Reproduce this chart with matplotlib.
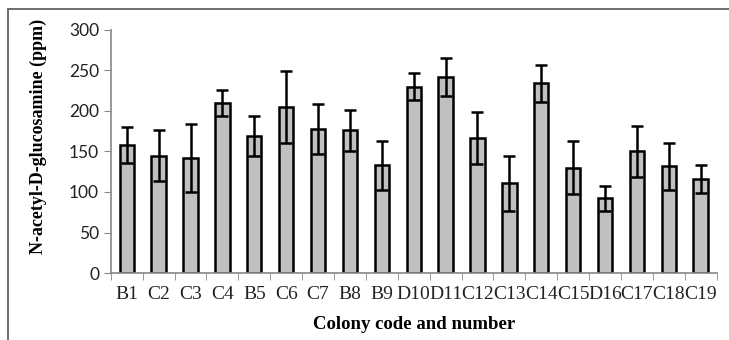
import numpy as np
import matplotlib
matplotlib.use("Agg")
import matplotlib.pyplot as plt
from matplotlib.patches import Rectangle

codes = ["B1", "C2", "C3", "C4", "B5", "C6", "C7", "B8", "B9", "D10",
         "D11", "C12", "C13", "C14", "C15", "D16", "C17", "C18", "C19"]
means = [158, 145, 142, 210, 169, 205, 178, 176, 133, 230,
         242, 167, 111, 234, 130, 92, 150, 132, 116]
errs = [22, 32, 42, 16, 25, 44, 31, 25, 30, 17,
        23, 32, 34, 23, 33, 16, 31, 29, 17]

fig = plt.figure(figsize=(7.29, 3.40), dpi=100)
ax = fig.add_axes([0.152, 0.197, 0.831, 0.715])

x = np.arange(len(codes))
ax.bar(x, means, width=0.45, color="#c0c0c0", edgecolor="black", linewidth=1.8,
       yerr=errs, capsize=4.5, error_kw=dict(ecolor="black", elinewidth=1.8, capthick=1.8))

ax.set_xlim(-0.5, len(codes) - 0.5)
ax.set_ylim(0, 300)
ax.set_yticks(range(0, 301, 50))
ax.set_xticks(x)
ax.set_xticks(np.arange(-0.5, len(codes), 1), minor=True)
ax.set_xticklabels(codes, family="Liberation Serif", fontsize=14, color="#222222")
ax.tick_params(axis="x", which="major", length=0, pad=9)
ax.tick_params(axis="x", which="minor", length=5, color="#888888", direction="out")
ax.tick_params(axis="y", length=5, color="#888888", labelsize=12.5, labelcolor="#222222")
for lab in ax.get_yticklabels():
    lab.set_family("Lato")

for s in ["top", "right"]:
    ax.spines[s].set_visible(False)
for s in ["left", "bottom"]:
    ax.spines[s].set_color("#888888")
    ax.spines[s].set_linewidth(1.2)

ax.set_ylabel("N-acetyl-D-glucosamine (ppm)", family="Liberation Serif",
              fontweight="bold", fontsize=13)
ax.yaxis.set_label_coords(-0.105, 0.56)
ax.set_xlabel("Colony code and number", family="Liberation Serif",
              fontweight="bold", fontsize=13.5, labelpad=10)

# outer frame of the original picture
fig.add_artist(Rectangle((8 / 729, -0.1), 1.2, 1.1 - 9 / 340, transform=fig.transFigure,
                         fill=False, edgecolor="#555555", linewidth=1.2))

fig.savefig("out.png", dpi=100)
